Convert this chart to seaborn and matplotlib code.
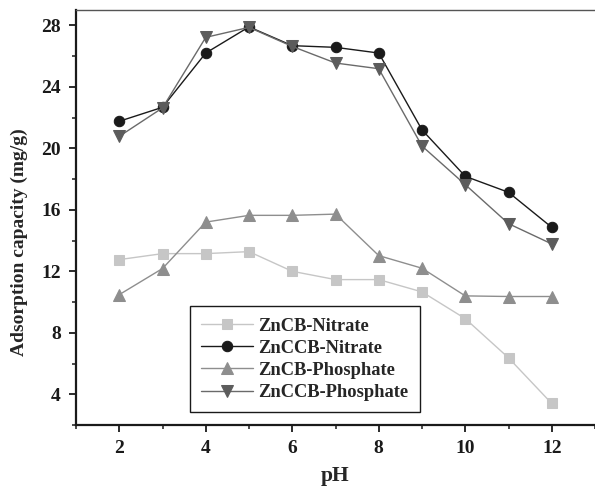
import numpy as np
import pandas as pd
import seaborn as sns
from matplotlib import pyplot as plt
from matplotlib.ticker import MultipleLocator

# pH values
ph = [2, 3, 4, 5, 6, 7, 8, 9, 10, 11, 12]

# adsorption capacity (mg/g)
zncb_nitrate = [12.76, 13.15, 13.15, 13.28, 12.0, 11.46, 11.46, 10.66, 8.92, 6.37, 3.4]
znccb_nitrate = [21.76, 22.67, 26.2, 27.9, 26.68, 26.57, 26.2, 21.2, 18.18, 17.14, 14.86]
zncb_phosphate = [10.48, 12.18, 15.2, 15.64, 15.64, 15.72, 13.02, 12.2, 10.4, 10.36, 10.36]
znccb_phosphate = [20.78, 22.63, 27.22, 27.87, 26.63, 25.55, 25.18, 20.15, 17.64, 15.1, 13.78]

series = ['ZnCB-Nitrate', 'ZnCCB-Nitrate', 'ZnCB-Phosphate', 'ZnCCB-Phosphate']
values = [zncb_nitrate, znccb_nitrate, zncb_phosphate, znccb_phosphate]

df = pd.DataFrame({
    'pH': ph * len(series),
    'q': np.concatenate(values),
    'series': np.repeat(series, len(ph)),
})

sns.set_style('ticks')
plt.rcParams['font.family'] = ['Liberation Serif', 'DejaVu Serif']
plt.rcParams['font.weight'] = 'bold'

# marker / line styling per series
styles = {
    'ZnCB-Nitrate': dict(marker='s', ms=6.5, mfc='#c6c6c6', line='#c6c6c6', lw=1.0),
    'ZnCCB-Nitrate': dict(marker='o', ms=7.5, mfc='#1a1a1a', line='#1a1a1a', lw=1.0),
    'ZnCB-Phosphate': dict(marker='^', ms=8, mfc='#8e8e8e', line='#8e8e8e', lw=1.0),
    'ZnCCB-Phosphate': dict(marker='v', ms=8, mfc='#5c5c5c', line='#6a6a6a', lw=1.0),
}

fig = plt.figure(figsize=(5.95, 4.86), dpi=100)
ax = fig.add_axes([76 / 595, 1 - 425 / 486, 1 - 76 / 595, 415 / 486])

for name in series:
    st = styles[name]
    sub = df[df['series'] == name]
    sns.lineplot(data=sub, x='pH', y='q', ax=ax, color=st['line'], lw=st['lw'],
                 marker=st['marker'], markersize=st['ms'], markerfacecolor=st['mfc'],
                 markeredgecolor=st['mfc'], label=name)

ax.set_xlim(1, 13)
ax.set_ylim(2, 29)
ax.xaxis.set_major_locator(MultipleLocator(2))
ax.xaxis.set_minor_locator(MultipleLocator(1))
ax.yaxis.set_major_locator(MultipleLocator(4))
ax.yaxis.set_minor_locator(MultipleLocator(2))
ax.tick_params(which='major', direction='out', length=5, width=1.3, labelsize=14,
               colors='#1a1a1a', pad=6)
ax.tick_params(which='minor', direction='out', length=3, width=1.1, colors='#1a1a1a')

ax.spines['right'].set_visible(False)
ax.spines['left'].set_linewidth(1.6)
ax.spines['bottom'].set_linewidth(1.6)
ax.spines['left'].set_color('#1a1a1a')
ax.spines['bottom'].set_color('#1a1a1a')
ax.spines['top'].set_linewidth(1.0)
ax.spines['top'].set_color('#555555')

ax.set_xlabel('pH', fontsize=15.5, fontweight='bold', labelpad=6)
ax.set_ylabel('Adsorption capacity (mg/g)', fontsize=14, fontweight='bold')
ax.yaxis.set_label_coords(-0.092, 0.441)

leg = ax.legend(loc='lower left', bbox_to_anchor=(0.22, 0.031), frameon=True,
                fancybox=False, framealpha=1, edgecolor='#1a1a1a',
                prop={'size': 13.3, 'weight': 'bold'}, handlelength=2.8,
                handletextpad=0.3, labelspacing=0.28, borderpad=0.6,
                borderaxespad=0)
leg.get_frame().set_linewidth(1.0)

fig.savefig('out.png', dpi=100)
